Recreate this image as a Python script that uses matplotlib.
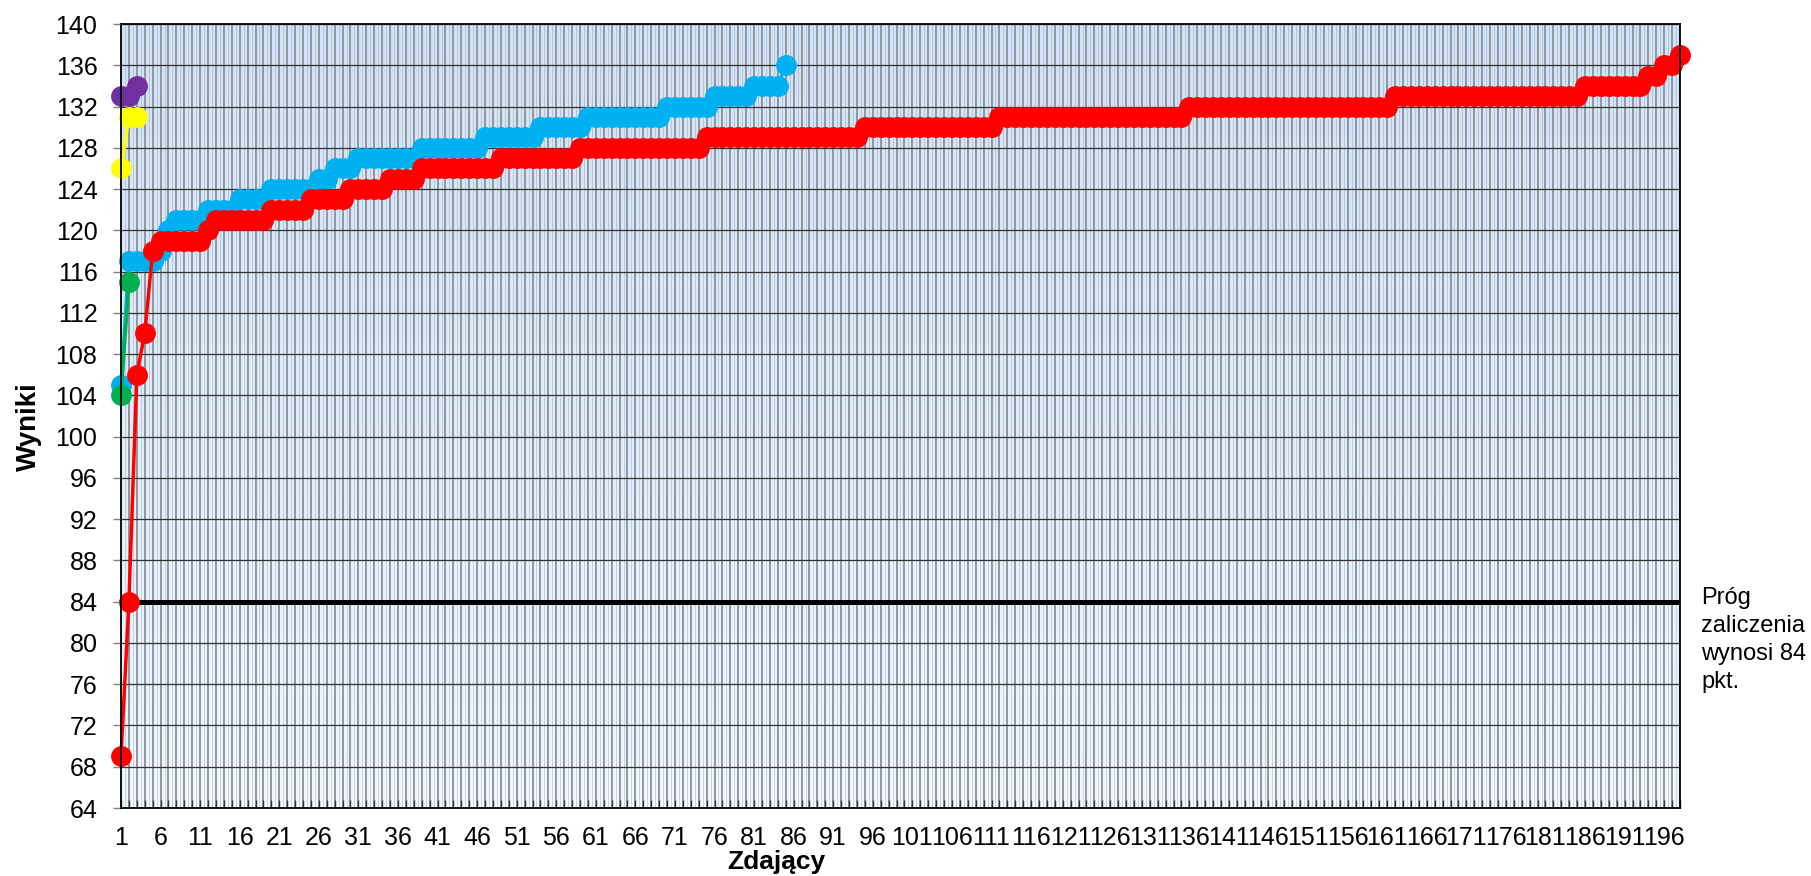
import matplotlib

matplotlib.use("Agg")
import matplotlib.pyplot as plt
import numpy as np
from matplotlib.colors import LinearSegmentedColormap

plt.rcParams["font.family"] = ["Liberation Sans", "DejaVu Sans"]

# wyniki zdających, posortowane rosnąco (po jednej serii na grupę)
red_scores = [
    69, 84, 106, 110, 118,
    119, 119, 119, 119, 119, 119,
    120,
    121, 121, 121, 121, 121, 121, 121,
    122, 122, 122, 122, 122,
    123, 123, 123, 123, 123,
    124, 124, 124, 124, 124,
    125, 125, 125, 125,
    126, 126, 126, 126, 126, 126, 126, 126, 126, 126,
    127, 127, 127, 127, 127, 127, 127, 127, 127, 127,
    128, 128, 128, 128, 128, 128, 128, 128, 128, 128, 128, 128, 128, 128, 128, 128,
    129, 129, 129, 129, 129, 129, 129, 129, 129, 129,
    129, 129, 129, 129, 129, 129, 129, 129, 129, 129,
    130, 130, 130, 130, 130, 130, 130, 130, 130, 130, 130, 130, 130, 130, 130, 130, 130,
    131, 131, 131, 131, 131, 131, 131, 131, 131, 131, 131, 131,
    131, 131, 131, 131, 131, 131, 131, 131, 131, 131, 131, 131,
    132, 132, 132, 132, 132, 132, 132, 132, 132, 132, 132, 132, 132,
    132, 132, 132, 132, 132, 132, 132, 132, 132, 132, 132, 132, 132,
    133, 133, 133, 133, 133, 133, 133, 133, 133, 133, 133, 133,
    133, 133, 133, 133, 133, 133, 133, 133, 133, 133, 133, 133,
    134, 134, 134, 134, 134, 134, 134, 134,
    135, 135,
    136, 136,
    137,
]
blue_scores = [
    105,
    117, 117, 117, 117,
    118,
    120,
    121, 121, 121, 121,
    122, 122, 122, 122,
    123, 123, 123, 123,
    124, 124, 124, 124, 124, 124,
    125, 125,
    126, 126, 126,
    127, 127, 127, 127, 127, 127, 127, 127,
    128, 128, 128, 128, 128, 128, 128, 128,
    129, 129, 129, 129, 129, 129, 129,
    130, 130, 130, 130, 130, 130,
    131, 131, 131, 131, 131, 131, 131, 131, 131, 131,
    132, 132, 132, 132, 132, 132,
    133, 133, 133, 133, 133,
    134, 134, 134, 134,
    136,
]
green_scores = [104, 115]
yellow_scores = [126, 131, 131]
purple_scores = [133, 133, 134]

# draw order: blue under red, small groups on top
series = [
    (blue_scores, "#00b0f0"),
    (red_scores, "#ff0000"),
    (green_scores, "#00b050"),
    (yellow_scores, "#ffff00"),
    (purple_scores, "#7030a0"),
]

threshold = 84
threshold_label = "Próg\nzaliczenia\nwynosi 84\npkt."
y_ticks = list(range(64, 141, 4))

W, H = 1811, 876
fig = plt.figure(figsize=(W / 100, H / 100), dpi=100)
ax = fig.add_axes([121 / W, 68 / H, 1559 / W, 784 / H])

n_cat = len(red_scores)
x_lo, x_hi = 1, n_cat
y_lo, y_hi = y_ticks[0], y_ticks[-1]

# plot-area fill: light blue, fading toward the bottom
cmap = LinearSegmentedColormap.from_list("bg", ["#d2e1f3", "#f3f7fc"])
ax.imshow(np.linspace(0, 1, 256).reshape(-1, 1), extent=[x_lo, x_hi, y_lo, y_hi],
          aspect="auto", cmap=cmap, zorder=0, interpolation="bilinear")
ax.vlines(np.arange(x_lo + 0.5, x_hi, 1), y_lo, y_hi, color="#5b9bd5",
          lw=0.45, alpha=0.55, zorder=0.5)

ax.set_xlim(x_lo, x_hi)
ax.set_ylim(y_lo, y_hi)
ax.set_xticks(np.arange(1, n_cat + 1, 5))
ax.set_xticks(np.arange(1, n_cat + 1), minor=True)
ax.set_yticks(y_ticks)
ax.grid(axis="x", which="both", color="#8f9399", lw=1.35, zorder=1)
ax.grid(axis="y", which="major", color="#333333", lw=0.9, zorder=1)
ax.set_axisbelow(True)

ax.tick_params(axis="x", which="both", direction="in", length=6, width=1,
               color="#333333", pad=13, labelsize=18)
ax.tick_params(axis="y", direction="out", length=6, width=1, color="#808080",
               pad=11, labelsize=18)
for s in ax.spines.values():
    s.set_color("black")
    s.set_linewidth(1.3)
    s.set_zorder(4)

ax.axhline(threshold, color="black", lw=3.6, zorder=2.5, solid_capstyle="projecting")

for vals, color in series:
    xs = np.arange(1, len(vals) + 1)
    ax.plot(xs, vals, "-o", color=color, lw=2.5, ms=14, mec=color,
            clip_on=False, zorder=3)

fig.text(29 / W, 1 - 427 / H, "Wyniki", rotation=90, ha="center", va="center",
         fontsize=20, fontweight="bold")
fig.text(776 / W, 1 - 862 / H, "Zdający", ha="center", va="center",
         fontsize=19, fontweight="bold")
fig.text(1701 / W, 1 - 587 / H, threshold_label, ha="left", va="top",
         fontsize=17, linespacing=1.35)

fig.savefig("out.png", dpi=100)
